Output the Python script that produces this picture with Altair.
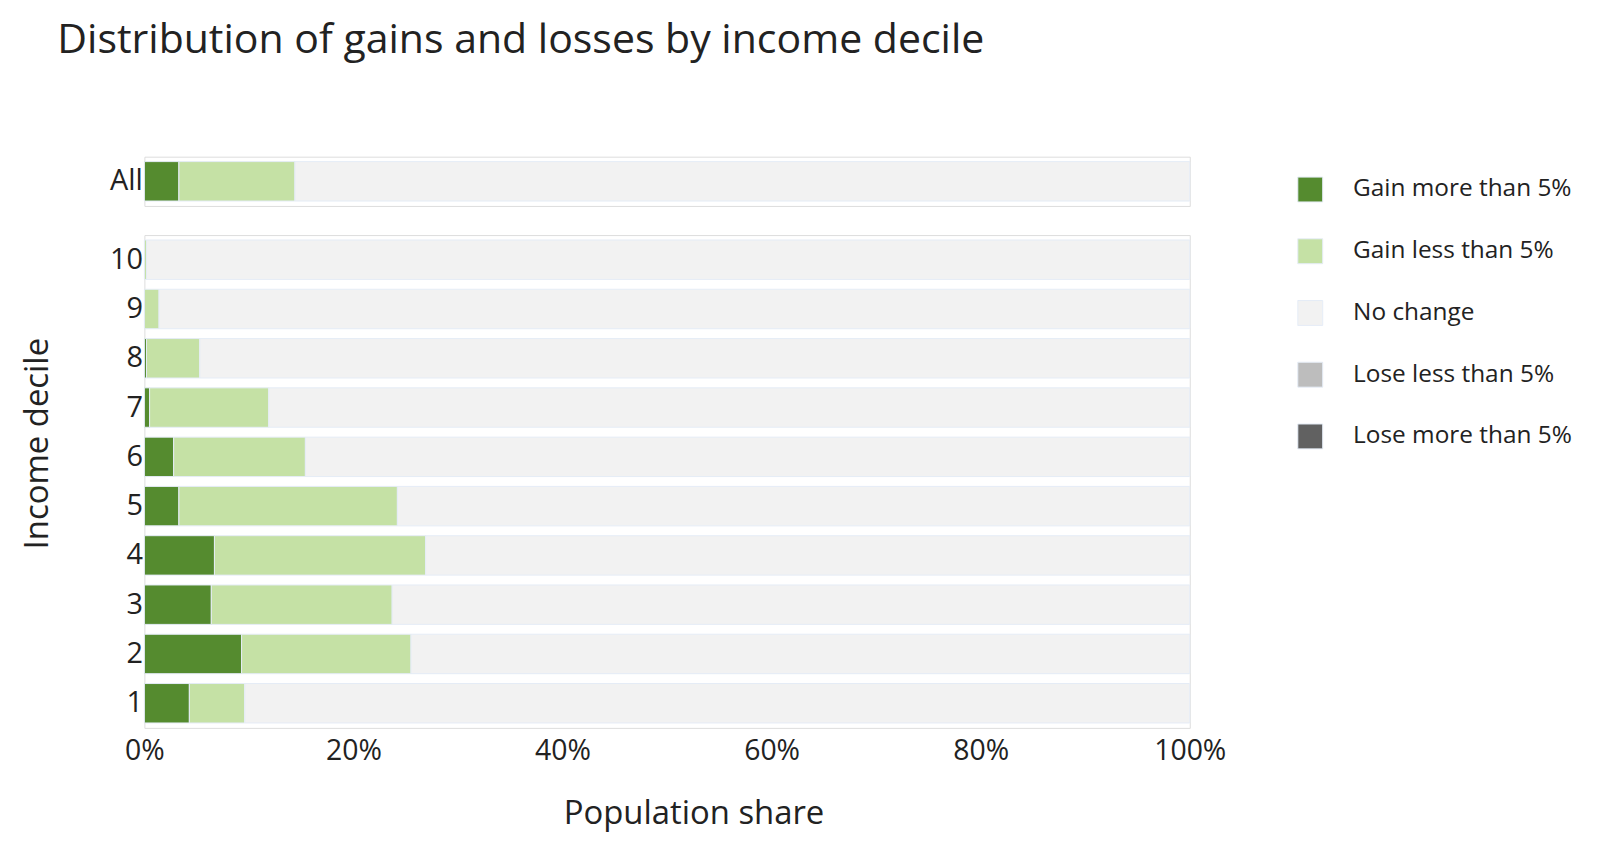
import altair as alt
import pandas as pd

deciles = ["All", "10", "9", "8", "7", "6", "5", "4", "3", "2", "1"]
gain_more = [3.3, 0.0, 0.0, 0.2, 0.5, 2.8, 3.3, 6.7, 6.4, 9.3, 4.3]
gain_less = [11.1, 0.2, 1.4, 5.1, 11.4, 12.6, 20.9, 20.2, 17.3, 16.2, 5.3]
no_change = [85.6, 99.8, 98.6, 94.7, 88.1, 84.6, 75.8, 73.1, 76.3, 74.5, 90.4]
lose_less = [0.0] * 11
lose_more = [0.0] * 11

categories = ["Gain more than 5%", "Gain less than 5%", "No change",
              "Lose less than 5%", "Lose more than 5%"]
colors = ["#558B2F", "#C5E1A5", "#F2F2F2", "#BDBDBD", "#616161"]

series = [gain_more, gain_less, no_change, lose_less, lose_more]
rows = []
for ci, (cat, vals) in enumerate(zip(categories, series)):
    for d, v in zip(deciles, vals):
        rows.append({"decile": d, "category": cat, "order": ci, "share": v / 100.0})
df = pd.DataFrame(rows)

FONT = "Open Sans"
W = 1050
TXT = "#222"

color = alt.Color("category:N",
                  scale=alt.Scale(domain=categories, range=colors),
                  legend=alt.Legend(title=None, orient="right", offset=51,
                                    symbolType="square", symbolSize=625,
                                    symbolStrokeColor="#e5ecf6", symbolStrokeWidth=1,
                                    labelFontSize=24.5, labelFont=FONT, labelColor=TXT,
                                    rowPadding=32, labelOffset=30, padding=20,
                                    labelLimit=400))

base = alt.Chart(df).transform_filter("datum.share > 0").mark_bar(
    stroke="#e5ecf6", strokeWidth=1
)

top = base.transform_filter("datum.decile == 'All'").encode(
    x=alt.X("share:Q", stack="zero", scale=alt.Scale(domain=[0, 1], nice=False), axis=None),
    y=alt.Y("decile:N", scale=alt.Scale(paddingInner=0.2, paddingOuter=0.1),
            axis=alt.Axis(title=None, ticks=False, domain=False, labelFontSize=29,
                          labelFont=FONT, labelColor=TXT, labelPadding=2)),
    color=color,
    order=alt.Order("order:Q"),
).properties(width=W, height=49.5)

bottom = base.transform_filter("datum.decile != 'All'").encode(
    x=alt.X("share:Q", stack="zero", scale=alt.Scale(domain=[0, 1], nice=False),
            axis=alt.Axis(format="%", values=[0, 0.2, 0.4, 0.6, 0.8, 1.0], grid=False,
                          ticks=False, domain=False, labelFontSize=28.5, labelFont=FONT,
                          labelColor=TXT, labelPadding=9, labelFlush=False,
                          title="Population share", titleFontSize=33, titleFont=FONT,
                          titleFontWeight="normal", titleColor=TXT, titlePadding=33,
                          titleX=551.5)),
    y=alt.Y("decile:N", sort=deciles[1:],
            scale=alt.Scale(paddingInner=0.2, paddingOuter=0.1),
            axis=alt.Axis(ticks=False, domain=False, labelFontSize=29, labelFont=FONT,
                          labelColor=TXT, labelPadding=2,
                          title="Income decile", titleFontSize=33, titleFont=FONT,
                          titleFontWeight="normal", titleColor=TXT,
                          titleX=-107, titleY=209, titleBaseline="middle")),
    color=color,
    order=alt.Order("order:Q"),
).properties(width=W, height=495)

chart = alt.vconcat(top, bottom, spacing=27.75).properties(
    title=alt.TitleParams("Distribution of gains and losses by income decile",
                          anchor="start", frame="bounds", fontSize=41.2, font=FONT,
                          fontWeight="normal", color=TXT, offset=95, dx=36),
    padding={"left": 13, "top": 10.5, "right": 0, "bottom": 0},
).configure_view(stroke=None).configure(background="white")

chart.save("out.html", embed_options={"renderer": "svg", "actions": False})
